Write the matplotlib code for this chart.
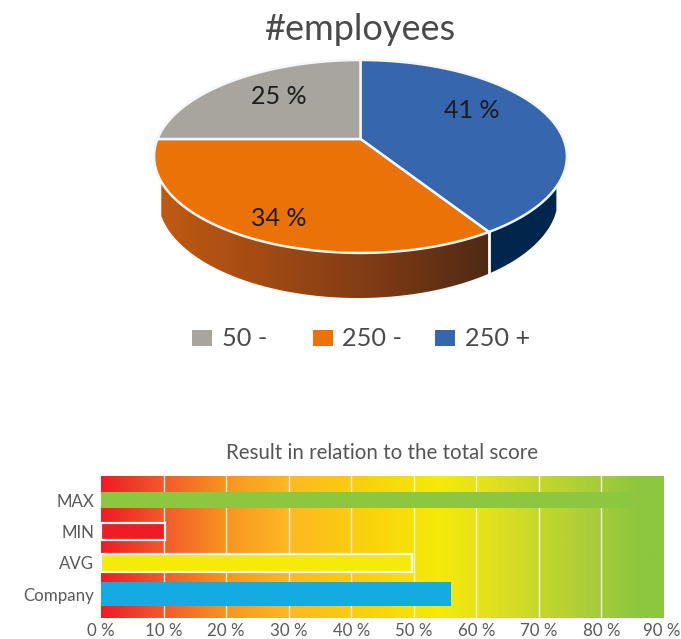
import numpy as np
import matplotlib
matplotlib.use("Agg")
import matplotlib.pyplot as plt
from matplotlib.patches import Polygon, Rectangle
from matplotlib.colors import LinearSegmentedColormap
from matplotlib.transforms import ScaledTranslation

plt.rcParams['font.family'] = ['Lato', 'DejaVu Sans']

# ---- data ----
pie_labels = ['250 +', '250 -', '50 -']          # clockwise from 12 o'clock
pie_values = [41, 34, 25]
pie_colors = ['#3566ae', '#ea7207', '#a8a59f']
legend_order = [2, 1, 0]
categories = ['MAX', 'MIN', 'AVG', 'Company']
bar_values = [85, 10.2, 49.7, 56]
bar_colors = ['#8dc63f', '#ee1c25', '#f5ea08', '#14aae2']
bar_heights = [16, 17, 18, 24]
bar_edges = [False, True, True, False]
x_ticks = [0, 10, 20, 30, 40, 50, 60, 70, 80, 90]

W, H = 681, 639
fig = plt.figure(figsize=(W / 100, H / 100), dpi=100, facecolor='white')

# ---- pie (perspective projection, pixel space) ----
ax = fig.add_axes([0, 0, 1, 1])
ax.set_xlim(0, W); ax.set_ylim(H, 0); ax.axis('off')
CX, CY, A, B, K = 360.5, 139.0, 203.0, 93.3, 0.181

def top(theta_deg):
    t = np.radians(theta_deg)
    X, Y = np.sin(t), np.cos(t)
    d = 1 + K * Y
    return np.column_stack([CX + A * X / d, CY - B * Y / d])

def lower_y(x):
    return 198 + 100 * np.sqrt(np.clip(1 - ((x - 358) / 200.0) ** 2, 0, 1))

def side_poly(t0, t1):
    rim = top(np.linspace(t0, t1, 120))
    low = np.column_stack([rim[:, 0], lower_y(rim[:, 0])])
    return np.vstack([rim, low[::-1]])

shares = np.array(pie_values, float) / sum(pie_values) * 360
edges = np.concatenate([[0], np.cumsum(shares)])

# extruded side
S0, S1 = 118, 245
b = edges[1]
blue_side = Polygon(side_poly(S0, b), fc='#01264d', ec='none', zorder=1)
ax.add_patch(blue_side)
orange_side = Polygon(side_poly(b, S1), fc='none', ec='none', zorder=1)
ax.add_patch(orange_side)
cm = LinearSegmentedColormap.from_list('s', ['#c05a12', '#a04a14', '#7d3a14', '#4e2a14'])
im = ax.imshow(np.linspace(0, 1, 256)[None, :], cmap=cm, extent=[160, 490, 300, 150],
               aspect='auto', zorder=1)
im.set_clip_path(orange_side)
ax.set_xlim(0, W); ax.set_ylim(H, 0)

# white seam on side
bx, by = top(b)[0]
ax.plot([bx, bx], [by, lower_y(bx)], color='white', lw=2, zorder=2)

# top surface
for i in range(len(pie_values)):
    arc = top(np.linspace(edges[i], edges[i + 1], 200))
    pts = np.vstack([[CX, CY], arc])
    ax.add_patch(Polygon(pts, closed=True, fc=pie_colors[i], ec='#f4f7fa', lw=1.8,
                         joinstyle='round', zorder=3))

pct_pos = [(472, 110), (279, 218), (279, 96)]
for v, (x, y) in zip(pie_values, pct_pos):
    ax.text(x, y, f'{v} %', ha='center', va='center', fontsize=18, color='#1c1c1c', zorder=5)

ax.text(360, 30, '#employees', ha='center', va='center', fontsize=26, color='#4a4a4a')

leg_sq = [192, 313, 435]
leg_tx = [222, 342, 465]
for i, sx, tx in zip(legend_order, leg_sq, leg_tx):
    ax.add_patch(Rectangle((sx, 330), 20, 16, fc=pie_colors[i], ec='none'))
    ax.text(tx, 339, pie_labels[i], ha='left', va='center', fontsize=18.2, color='#4a4a4a')

ax.text(382, 453, 'Result in relation to the total score', ha='center', va='center',
        fontsize=14.8, color='#555555')

# ---- bars ----
L, R, T, Bt = 101, 664, 476, 618
bx_ax = fig.add_axes([L / W, 1 - Bt / H, (R - L) / W, (Bt - T) / H])
spacing = 31.3
bx_ax.set_xlim(0, 90)
bx_ax.set_ylim((594 - Bt) / spacing, (594 - T) / spacing)
grad = LinearSegmentedColormap.from_list('g', [
    (0.0, '#ee1c25'), (0.11, '#f15a2c'), (0.22, '#f7941f'), (0.33, '#fdb823'),
    (0.47, '#f9d10c'), (0.60, '#f5ea08'), (0.70, '#dfe01e'), (0.85, '#b0cf36'),
    (0.96, '#8dc63f'), (1.0, '#8dc63f')])
bx_ax.imshow(np.linspace(0, 1, 512)[None, :], cmap=grad, aspect='auto',
             extent=[0, 90, bx_ax.get_ylim()[0], bx_ax.get_ylim()[1]], zorder=0)
for t in x_ticks[1:-1]:
    bx_ax.axvline(t, color='#f6f2e0', lw=1.0, zorder=1)
ys = [3, 2, 1, 0]
for y, v, c, h, e in zip(ys, bar_values, bar_colors, bar_heights, bar_edges):
    bx_ax.barh(y, v, height=h / spacing, color=c, zorder=2,
               edgecolor='white' if e else 'none', linewidth=1.6 if e else 0)
for s in bx_ax.spines.values():
    s.set_visible(False)
bx_ax.set_yticks(ys, categories)
bx_ax.set_xticks(x_ticks, [f'{t} %' for t in x_ticks])
bx_ax.tick_params(length=0, labelsize=12.2, labelcolor='#595959')
bx_ax.tick_params(axis='x', pad=3.5)
bx_ax.tick_params(axis='y', pad=5)
last = bx_ax.get_xticklabels()[-1]
last.set_transform(last.get_transform() + ScaledTranslation(-1.5 / 72, 0, fig.dpi_scale_trans))

fig.savefig('out.png', dpi=100)
